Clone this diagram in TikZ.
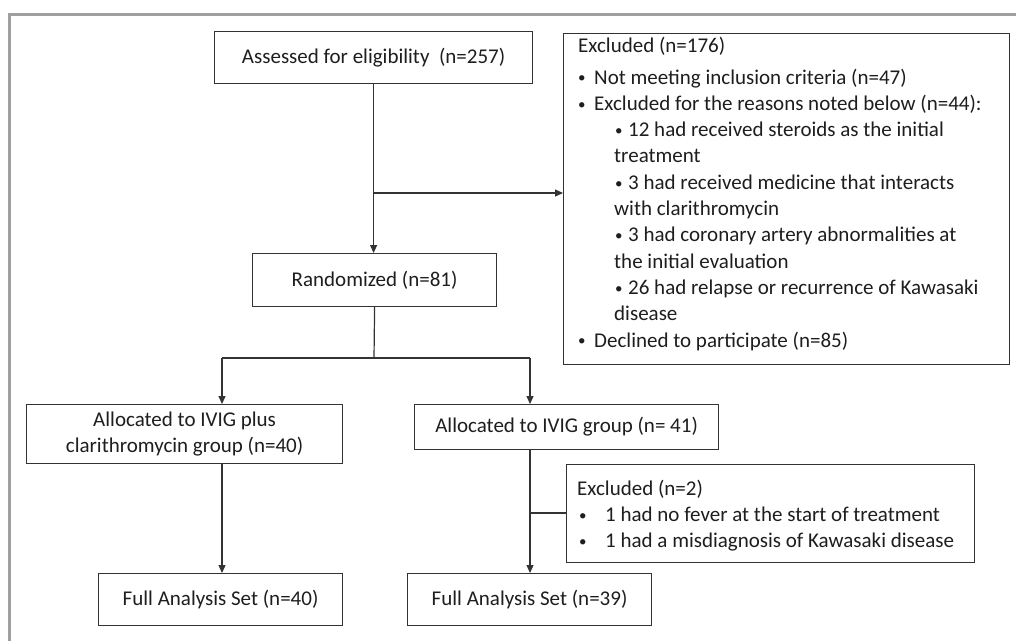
\documentclass[tikz,border=0pt]{standalone}
\usepackage{fontspec}
\setmainfont{Carlito}
\usetikzlibrary{arrows.meta}
\definecolor{ln}{HTML}{333333}
\definecolor{tx}{HTML}{1E1E1E}
\definecolor{framegrey}{HTML}{A0A0A0}
\newcommand{\smbul}{\raisebox{1.2pt}{\fontsize{15}{15}\selectfont •}}
\begin{document}
\begin{tikzpicture}[x=1pt,y=-1pt,
  box/.style={draw=ln, line width=1.2pt, inner sep=0pt, anchor=north west,
    font=\fontsize{21}{26}\selectfont, text=tx, align=center},
  txt/.style={inner sep=0pt, anchor=north west,
    font=\fontsize{21}{26.3}\selectfont, text=tx, align=left},
  arr/.style={draw=ln, line width=1.2pt, -{Triangle[length=8pt,width=7pt]}},
  con/.style={draw=ln, line width=1.2pt}]
\useasboundingbox (0,0) rectangle (1016,641);
\fill[white] (0,0) rectangle (1016,641);
\draw[framegrey, line width=3pt] (9,641) -- (9,14) -- (1016,14);

% boxes
\node[box, minimum width=318, minimum height=52] (ass) at (214,31) {Assessed for eligibility\ \ (n=257)};
\node[box, minimum width=446, minimum height=331] (exc) at (563,33) {};
\node[txt] (exctext) at (578,36.5) {Excluded (n=176)\\[5.7pt]
\makebox[16pt][l]{\smbul}Not meeting inclusion criteria (n=47)\\
\makebox[16pt][l]{\smbul}Excluded for the reasons noted below (n=44):\\
\hspace*{37pt}\makebox[13pt][l]{\smbul}12 had received steroids as the initial\\
\hspace*{36pt}treatment\\
\hspace*{37pt}\makebox[13pt][l]{\smbul}3 had received medicine that interacts\\
\hspace*{36pt}with clarithromycin\\
\hspace*{37pt}\makebox[13pt][l]{\smbul}3 had coronary artery abnormalities at\\
\hspace*{36pt}the initial evaluation\\
\hspace*{37pt}\makebox[13pt][l]{\smbul}26 had relapse or recurrence of Kawasaki\\
\hspace*{36pt}disease\\
\makebox[16pt][l]{\smbul}Declined to participate (n=85)};
\node[box, minimum width=244, minimum height=53] (rand) at (252,253) {Randomized (n=81)};
\node[box, minimum width=316, minimum height=59] (al1) at (26,404) {Allocated to IVIG plus\\clarithromycin group (n=40)};
\node[box, minimum width=304, minimum height=45] (al2) at (414,404) {Allocated to IVIG group (n=\ 41)};
\node[box, minimum width=408, minimum height=98] (exc2) at (566,464) {};
\node[txt] (exc2text) at (577,479.5) {Excluded (n=2)\\
\makebox[28pt][l]{\hspace*{2pt}\smbul}1 had no fever at the start of treatment\\
\makebox[28pt][l]{\hspace*{2pt}\smbul}1 had a misdiagnosis of Kawasaki disease};
\node[box, minimum width=244, minimum height=52] (f40) at (98,573) {Full Analysis Set (n=40)};
\node[box, minimum width=244, minimum height=52] (f39) at (407,573) {Full Analysis Set (n=39)};

% connectors
\coordinate (b1) at (373,193);
\coordinate (jm) at (374,358);
\coordinate (jl) at (222,358);
\coordinate (jr) at (530,358);
\coordinate (e2) at (530,513);
\draw[arr] (ass.south) -- (ass.south |- rand.north);
\draw[arr] (b1) -- (b1 -| exc.west);
\draw[con] (rand.south) -- (jm);
\draw[con] (jl) -- (jr);
\draw[arr] (jl) -- (jl |- al1.north);
\draw[arr] (jr) -- (jr |- al2.north);
\draw[arr] (jl |- al1.south) -- (jl |- f40.north);
\draw[arr] (jr |- al2.south) -- (jr |- f39.north);
\draw[con] (e2) -- (e2 -| exc2.west);
\end{tikzpicture}
\end{document}
